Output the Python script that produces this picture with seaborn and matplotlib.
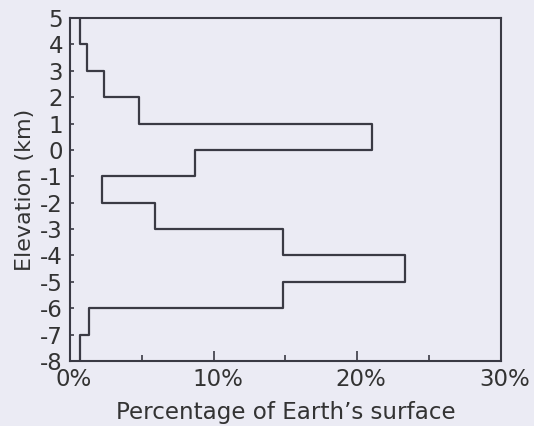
import numpy as np
import pandas as pd
import seaborn as sns
import matplotlib.pyplot as plt
import matplotlib.transforms as mtransforms
from matplotlib.ticker import MultipleLocator, FuncFormatter

# Elevation bins (km, bin centre) and share of Earth's surface (%)
elevation = [4.5, 3.5, 2.5, 1.5, 0.5, -0.5, -1.5, -2.5, -3.5, -4.5, -5.5, -6.5, -7.5]
percent = [0.7, 1.2, 2.4, 4.8, 21.0, 8.7, 2.2, 5.9, 14.8, 23.3, 14.8, 1.3, 0.7]
bin_edges = list(range(-8, 6))

df = pd.DataFrame({"elevation": elevation, "percent": percent})

bg = "#ebebf4"
ink = "#3a3a44"

sns.set_style("ticks")
plt.rcParams["font.family"] = ["DejaVu Sans"]
plt.rcParams["axes.unicode_minus"] = False

fig = plt.figure(figsize=(5.34, 4.26), dpi=100, facecolor=bg)
ax = fig.add_axes([0.131, 0.1526, 0.807, 0.805])
ax.set_facecolor(bg)

sns.histplot(data=df, y="elevation", weights="percent", bins=bin_edges,
             element="step", fill=False, color=ink, linewidth=1.6, ax=ax)

ax.set_xlim(0, 30)
ax.set_ylim(-8, 5)
ax.yaxis.set_major_locator(MultipleLocator(1))
ax.xaxis.set_major_locator(MultipleLocator(10))
ax.xaxis.set_minor_locator(MultipleLocator(5))
ax.xaxis.set_major_formatter(FuncFormatter(lambda v, p: f"{v:.0f}%"))

ax.tick_params(axis="both", direction="in", colors=ink, labelcolor="#333333",
               labelsize=16.5, width=1.2)
ax.tick_params(axis="y", length=3, pad=5)
ax.tick_params(axis="x", which="major", length=7, pad=5)
ax.tick_params(axis="x", which="minor", length=4, width=1.2, direction="in", colors=ink)

# nudge x tick labels right a little, the first one more (clears the -8)
for i, lab in enumerate(ax.get_xticklabels()):
    dx = 0.11 if i == 0 else 0.04
    lab.set_transform(lab.get_transform() + mtransforms.ScaledTranslation(dx, 0, fig.dpi_scale_trans))

for s in ax.spines.values():
    s.set_visible(True)
    s.set_color(ink)
    s.set_linewidth(1.5)

ax.set_xlabel("Percentage of Earth\u2019s surface", fontsize=16.6, color="#333333", labelpad=7)
ax.set_ylabel("Elevation (km)", fontsize=16, color="#333333", labelpad=4)

fig.savefig("out.png", dpi=100, facecolor=bg)
